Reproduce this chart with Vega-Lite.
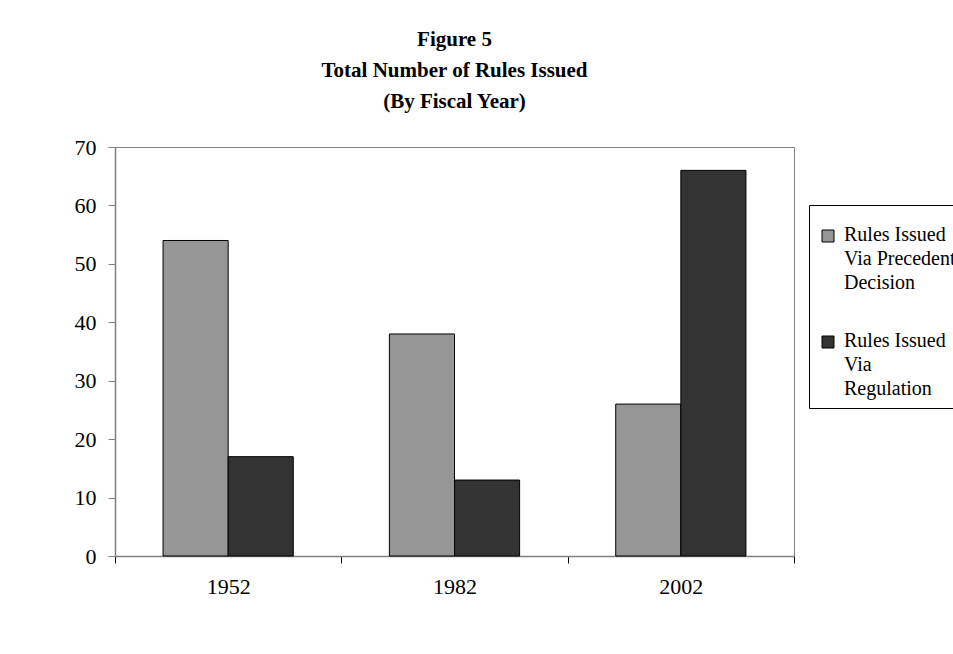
{
  "$schema": "https://vega.github.io/schema/vega-lite/v6.json",
  "width": 679,
  "height": 409,
  "autosize": {"type": "none"},
  "padding": {"left": 115, "top": 147, "right": 159, "bottom": 98},
  "background": "white",
  "title": {
    "text": ["Figure 5", "Total Number of Rules Issued", "(By Fiscal Year)"],
    "anchor": "middle",
    "frame": "group",
    "font": "Liberation Serif",
    "fontSize": 21,
    "fontWeight": "bold",
    "lineHeight": 31,
    "color": "black",
    "offset": 24
  },
  "data": {
    "values": [
      {"year": "1952", "series": "Rules Issued|Via Precedent|Decision", "value": 54},
      {"year": "1952", "series": "Rules Issued|Via|Regulation", "value": 17},
      {"year": "1982", "series": "Rules Issued|Via Precedent|Decision", "value": 38},
      {"year": "1982", "series": "Rules Issued|Via|Regulation", "value": 13},
      {"year": "2002", "series": "Rules Issued|Via Precedent|Decision", "value": 26},
      {"year": "2002", "series": "Rules Issued|Via|Regulation", "value": 66}
    ]
  },
  "mark": {"type": "bar", "stroke": "black", "strokeWidth": 1},
  "encoding": {
    "x": {
      "field": "year",
      "type": "nominal",
      "scale": {"paddingInner": 0, "paddingOuter": 0},
      "axis": {
        "title": null,
        "labelAngle": 0,
        "tickBand": "extent",
        "tickSize": 7,
        "tickColor": "black",
        "domainColor": "#808080",
        "labelFont": "Liberation Serif",
        "labelFontSize": 22,
        "labelColor": "black",
        "labelPadding": 13
      }
    },
    "xOffset": {
      "field": "series",
      "type": "nominal",
      "scale": {"paddingInner": 0, "paddingOuter": 0.738}
    },
    "y": {
      "field": "value",
      "type": "quantitative",
      "scale": {"domain": [0, 70]},
      "axis": {
        "title": null,
        "values": [0, 10, 20, 30, 40, 50, 60, 70],
        "grid": false,
        "tickSize": 7,
        "tickColor": "#808080",
        "domainColor": "#808080",
        "labelFont": "Liberation Serif",
        "labelFontSize": 22,
        "labelColor": "black",
        "labelPadding": 12
      }
    },
    "fill": {
      "field": "series",
      "type": "nominal",
      "scale": {"range": ["#969696", "#333333"]},
      "legend": {
        "title": " ",
        "titleFontSize": 1,
        "titlePadding": 11,
        "orient": "none",
        "legendX": 694,
        "legendY": 58,
        "labelExpr": "split(datum.label, '|')",
        "labelFont": "Liberation Serif",
        "labelFontSize": 20,
        "labelColor": "black",
        "labelLimit": 200,
        "labelBaseline": "top",
        "labelOffset": 6,
        "symbolType": "square",
        "symbolSize": 144,
        "symbolStrokeColor": "black",
        "symbolStrokeWidth": 1,
        "symbolOffset": 0,
        "rowPadding": 38,
        "strokeColor": "black",
        "padding": 9,
        "fillColor": "white",
        "encode": {
          "labels": {"update": {"lineHeight": {"value": 24}, "dy": {"value": -11}}}
        }
      }
    }
  },
  "config": {
    "view": {"stroke": "#808080"},
    "axis": {"domainWidth": 1.5}
  }
}
